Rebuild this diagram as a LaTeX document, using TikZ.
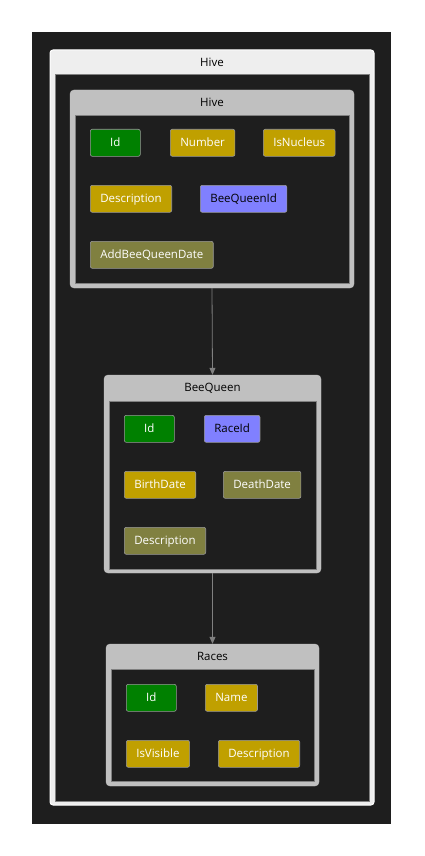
\documentclass[tikz,border=0pt]{standalone}
\usepackage{fontspec}
\setmainfont{Open Sans}
\usepackage{tikz}
\usetikzlibrary{arrows.meta,positioning}
\usepackage{xcolor}
\definecolor{canvasdark}{RGB}{30,30,30}
\definecolor{groupgray}{RGB}{192,192,192}
\definecolor{outerlight}{RGB}{238,238,238}
\definecolor{keygreen}{RGB}{0,128,0}
\definecolor{propgold}{RGB}{192,160,0}
\definecolor{fkviolet}{RGB}{128,128,255}
\definecolor{navolive}{RGB}{128,128,64}
\definecolor{edgegray}{RGB}{128,128,128}

\tikzset{
  entitybox/.style={fill=groupgray, draw=groupgray, rounded corners=4pt},
  entitybody/.style={fill=canvasdark, draw=edgegray, line width=0.6pt},
  titletext/.style={text=black, font=\fontsize{11.5}{14}\selectfont, inner sep=0pt},
  field/.style={anchor=north west, draw=edgegray!80!white, line width=0.6pt, rounded corners=2pt,
    minimum height=27pt, minimum width=50pt, inner xsep=10pt, inner ysep=0pt,
    text height=8.5pt, text depth=2pt,
    text=white, font=\fontsize{11.5}{14}\selectfont},
  keyfield/.style={field, fill=keygreen},
  propfield/.style={field, fill=propgold},
  fkfield/.style={field, fill=fkviolet, text=black},
  navfield/.style={field, fill=navolive},
  linkline/.style={draw=edgegray, line width=0.8pt, -{Triangle[length=7pt,width=6pt]}}
}

\begin{document}
\begin{tikzpicture}[x=1pt, y=-1pt]
\useasboundingbox (0,0) rectangle (424,856);
\fill[white] (0,0) rectangle (424,856);
\fill[canvasdark] (32,32) rectangle (391,824);

% outer group
\draw[fill=outerlight, draw=white, line width=1pt, rounded corners=3pt] (50,50) rectangle (374,805);
\draw[fill=canvasdark, draw=edgegray, line width=0.6pt] (55,74) rectangle (369,801);
\node[titletext] (outertitle) at (212,62) {Hive};

% Hive
\node[entitybox, minimum width=284pt, minimum height=198pt] (hive) at (212,189) {};
\draw[entitybody] (75,115) rectangle (349,283);
\node[titletext] (hivetitle) at (212,102.5) {Hive};
\node[keyfield] (hiveid) at (90,129) {Id};
\node[propfield] (hivenumber) at (170,129) {Number};
\node[propfield] (hivenucleus) at (263,129) {IsNucleus};
\node[propfield] (hivedesc) at (90,185) {Description};
\node[fkfield] (hivequeenid) at (200,185) {BeeQueenId};
\node[navfield] (hiveadddate) at (90,241) {AddBeeQueenDate};

% BeeQueen
\node[entitybox, minimum width=217pt, minimum height=198pt] (queen) at (212.5,474) {};
\draw[entitybody] (109,401) rectangle (316,569);
\node[titletext] (queentitle) at (212.5,388) {BeeQueen};
\node[keyfield] (queenid) at (124,415) {Id};
\node[fkfield] (queenraceid) at (204,415) {RaceId};
\node[propfield] (queenbirth) at (124,471) {BirthDate};
\node[navfield] (queendeath) at (223,471) {DeathDate};
\node[navfield] (queendesc) at (124,527) {Description};

% Races
\node[entitybox, minimum width=213pt, minimum height=142pt] (races) at (212.5,715) {};
\draw[entitybody] (111,669) rectangle (314,781);
\node[titletext] (racestitle) at (212.5,656.5) {Races};
\node[keyfield] (raceid) at (126,684) {Id};
\node[propfield] (racename) at (205,684) {Name};
\node[propfield] (racevisible) at (126,740) {IsVisible};
\node[propfield] (racedesc) at (218,740) {Description};

\draw[linkline] (hive.south) -- (queen.north);
\draw[linkline] (queen.south) -- (races.north);
\end{tikzpicture}
\end{document}
